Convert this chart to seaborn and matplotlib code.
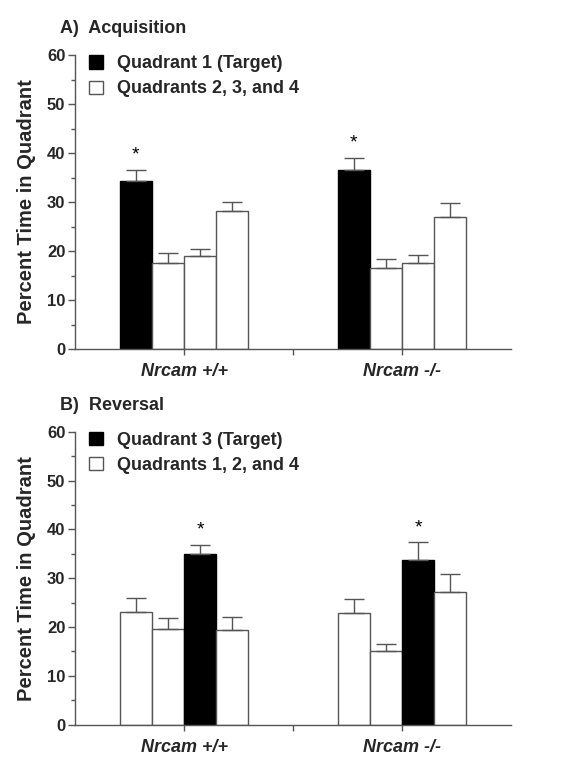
import matplotlib
matplotlib.use("Agg")
import matplotlib.pyplot as plt
from matplotlib.patches import Patch
from matplotlib.ticker import MultipleLocator
import seaborn as sns
import pandas as pd

# ---- data ----
genotypes = ["Nrcam +/+", "Nrcam -/-"]
quadrants = ["Q1", "Q2", "Q3", "Q4"]

acq_mean_wt = [34.4, 17.5, 18.9, 28.1]
acq_sem_wt = [2.2, 2.1, 1.5, 1.9]
acq_mean_ko = [36.5, 16.5, 17.5, 27.0]
acq_sem_ko = [2.6, 1.9, 1.7, 2.8]

rev_mean_wt = [23.0, 19.6, 35.0, 19.4]
rev_sem_wt = [3.0, 2.2, 1.9, 2.6]
rev_mean_ko = [22.9, 15.0, 33.8, 27.1]
rev_sem_ko = [2.9, 1.5, 3.6, 3.8]

acq_target = "Q1"
rev_target = "Q3"
acq_legend = ["Quadrant 1 (Target)", "Quadrants 2, 3, and 4"]
rev_legend = ["Quadrant 3 (Target)", "Quadrants 1, 2, and 4"]
titles = ["A)  Acquisition", "B)  Reversal"]

sns.set_style("white")
plt.rcParams["font.family"] = ["Liberation Sans", "DejaVu Sans"]

fig = plt.figure(figsize=(5.86, 7.75), dpi=100)
axA = fig.add_axes([0.128, 0.5497, 0.744, 0.379])
axB = fig.add_axes([0.128, 0.0649, 0.744, 0.378])

def make_df(mwt, swt, mko, sko):
    rows = []
    for g, ms, ss in [(genotypes[0], mwt, swt), (genotypes[1], mko, sko)]:
        for q, m, s in zip(quadrants, ms, ss):
            rows.append({"genotype": g, "quadrant": q, "value": m, "sem": s})
    return pd.DataFrame(rows)

def panel(ax, df, target, legend_labels, title):
    palette = {q: ("black" if q == target else "white") for q in quadrants}
    sns.barplot(data=df, x="genotype", y="value", hue="quadrant",
                hue_order=quadrants, order=genotypes, palette=palette,
                errorbar=None, width=0.59, edgecolor="#555555", linewidth=1.0,
                legend=False, ax=ax)
    for q, cont in zip(quadrants, ax.containers):
        for g, bar in zip(genotypes, cont):
            row = df[(df.genotype == g) & (df.quadrant == q)].iloc[0]
            xc = bar.get_x() + bar.get_width() / 2
            h = bar.get_height()
            if q == target:
                bar.set_edgecolor("black")
            ax.errorbar(xc, h, yerr=[[0], [row["sem"]]], fmt="none",
                        ecolor="#555555", elinewidth=1.0, capsize=7,
                        capthick=1.0, zorder=1)
            if q == target:
                ax.text(xc, h + row["sem"] + 1.2, "*", ha="center", va="bottom",
                        fontsize=14, color="black")
    ax.set_ylim(0, 60)
    ax.set_xlim(-0.5, 1.5)
    ax.yaxis.set_major_locator(MultipleLocator(10))
    ax.yaxis.set_minor_locator(MultipleLocator(5))
    ax.set_xticks([0, 0.5, 1])
    ax.set_xticklabels([genotypes[0], "", genotypes[1]], fontsize=13,
                       fontweight="bold", fontstyle="italic")
    for lab in ax.get_yticklabels():
        lab.set_fontweight("bold")
        lab.set_fontsize(12)
    ax.tick_params(axis="y", which="major", left=True, length=5, width=1,
                   color="#555555", pad=2)
    ax.tick_params(axis="y", which="minor", left=True, length=3, width=1,
                   color="#555555")
    ax.tick_params(axis="x", which="major", bottom=True, length=4, width=1,
                   color="#555555", pad=6)
    ax.set_xlabel("")
    ax.set_ylabel("Percent Time in Quadrant", fontsize=14.5, fontweight="bold",
                  labelpad=8)
    sns.despine(ax=ax)
    for s in ["left", "bottom"]:
        ax.spines[s].set_color("#555555")
        ax.spines[s].set_linewidth(1.0)
    handles = [Patch(facecolor="black", edgecolor="black"),
               Patch(facecolor="white", edgecolor="#555555")]
    ax.legend(handles, legend_labels, loc="upper left",
              bbox_to_anchor=(-0.005, 1.055), frameon=False,
              prop={"weight": "bold", "size": 13},
              handlelength=0.75, handleheight=0.75, handletextpad=0.8,
              labelspacing=0.45)
    ax.text(-0.035, 1.09, title, transform=ax.transAxes, fontsize=13,
            fontweight="bold", ha="left", va="center")

panel(axA, make_df(acq_mean_wt, acq_sem_wt, acq_mean_ko, acq_sem_ko),
      acq_target, acq_legend, titles[0])
panel(axB, make_df(rev_mean_wt, rev_sem_wt, rev_mean_ko, rev_sem_ko),
      rev_target, rev_legend, titles[1])

fig.savefig("out.png", dpi=100)
